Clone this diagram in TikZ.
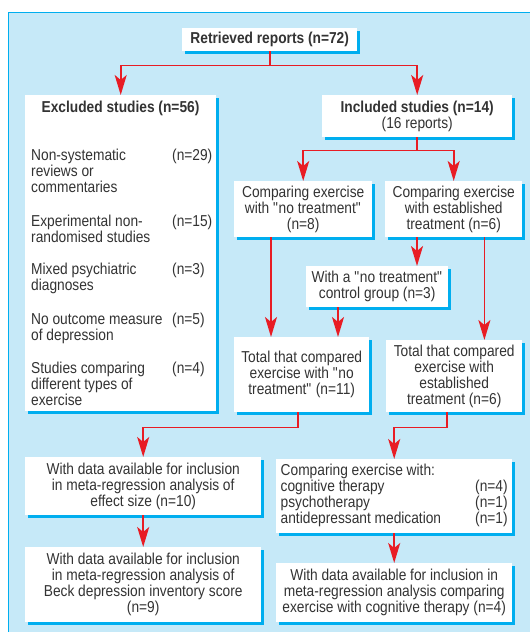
\documentclass[tikz,border=0pt]{standalone}
\usepackage{fontspec}
\setmainfont[FakeStretch=0.87]{Liberation Sans}
\usetikzlibrary{arrows.meta}
\usetikzlibrary{shadows}
\definecolor{panel}{RGB}{198,233,248}
\definecolor{rim}{RGB}{0,174,239}
\definecolor{flow}{RGB}{232,28,36}
\definecolor{ink}{RGB}{51,51,51}
\def\myfont{\fontsize{15.8pt}{16pt}\selectfont}
\def\q{\textquotedbl{}}
\tikzset{
>={Stealth[length=20pt,width=12pt,inset=5pt]}, % barbed red heads
my box/.style={fill=white,inner sep=0pt,anchor=north west,align=center,
  drop shadow={shadow xshift=3pt,shadow yshift=-3pt,fill=rim,opacity=1}},
my item/.style={inner sep=0pt,align=left,anchor=base west},
link/.style={->,draw=flow,line width=1.8pt},
}
\begin{document}
\begin{tikzpicture}[x=1pt,y=-1pt,font=\myfont,text=ink]
\useasboundingbox (0,0) rectangle (530,632);
\draw[fill=panel,draw=rim,line width=1pt] (8,12) rectangle (540,640);
% top level
\node[my box,minimum width=175pt,minimum height=23pt] (ret) at (182,28) {\bfseries Retrieved reports (n=72)};
\node[my box,minimum width=191pt,minimum height=316pt] (exc) at (25,95) {};
\node[my box,minimum width=190pt,minimum height=42pt] (inc) at (322,95) {\bfseries Included studies (n=14)\\(16 reports)};
% excluded list (base = last line)
\node[inner sep=0pt,anchor=base] (exct) at (120.5,112) {\bfseries Excluded studies (n=56)};
\node[my item] (x1) at (31,192) {Non-systematic\\reviews or\\commentaries};
\node[my item] (n1) at (172,160) {(n=29)};
\node[my item] (x2) at (31,242) {Experimental non-\\randomised studies};
\node[my item] (n2) at (172,226) {(n=15)};
\node[my item] (x3) at (31,290) {Mixed psychiatric\\diagnoses};
\node[my item] (n3) at (172,274) {(n=3)};
\node[my item] (x4) at (31,340) {No outcome measure\\of depression};
\node[my item] (n4) at (172,324) {(n=5)};
\node[my item] (x5) at (31,405) {Studies comparing\\different types of\\exercise};
\node[my item] (n5) at (172,373) {(n=4)};
% included branch
\node[my box,minimum width=138pt,minimum height=56pt] (nt) at (234,181) {Comparing exercise\\with \q no treatment\q\\(n=8)};
\node[my box,minimum width=137pt,minimum height=56pt] (et) at (385,181) {Comparing exercise\\with established\\treatment (n=6)};
\node[my box,minimum width=142pt,minimum height=41pt] (ctl) at (306,266) {With a \q no treatment\q\\control group (n=3)};
\node[my box,minimum width=135pt,minimum height=75pt] (tnt) at (234,337) {Total that compared\\exercise with \q no\\treatment\q{} (n=11)};
\node[my box,minimum width=136pt,minimum height=72pt] (tet) at (386,340) {Total that compared\\exercise with\\established\\treatment (n=6)};
% analyses
\node[my box,minimum width=236pt,minimum height=58pt] (es) at (25,457) {With data available for inclusion\\in meta-regression analysis of\\effect size (n=10)};
\node[my box,minimum width=236pt,minimum height=75pt] (bdi) at (25,547) {With data available for inclusion\\in meta-regression analysis of\\Beck depression inventory score\\(n=9)};
\node[my box,minimum width=236pt,minimum height=74pt] (cmp) at (276,459) {\begin{tabular*}{227pt}{@{}l@{\extracolsep{\fill}}r@{}}
Comparing exercise with: & \\
cognitive therapy & (n=4)\\
psychotherapy & (n=1)\\
antidepressant medication & (n=1)
\end{tabular*}};
\node[my box,minimum width=236pt,minimum height=59pt] (ct) at (276,563) {With data available for inclusion in\\meta-regression analysis comparing\\exercise with cognitive therapy (n=4)};
% connectors
\draw[link] (ret.south) -- ++(0,14) coordinate (j1) -| (exc.north);
\draw[link] (j1) -| (inc.north);
\draw[link] (inc.south) -- ++(0,13) coordinate (j2) -| (nt.north);
\draw[link] (j2) -| (et.north);
\draw[link] ([xshift=37pt]nt.south west) -- ([xshift=37pt]nt.south west |- tnt.north);
\draw[link] ([xshift=32pt]et.south west) -- ([xshift=32pt]et.south west |- ctl.north);
\draw[link] ([xshift=32pt]ctl.south west) -- ([xshift=32pt]ctl.south west |- tnt.north);
\draw[link] ([xshift=-38pt]et.south east) -- ([xshift=-38pt]et.south east |- tet.north);
\draw[link] ([xshift=64pt]tnt.south west) -- ++(0,15) -| (es.north);
\draw[link] ([xshift=61pt]tet.south west) -- ++(0,15) -| (cmp.north);
\draw[link] (es.south) -- (bdi.north);
\draw[link] (cmp.south) -- (ct.north);
\end{tikzpicture}
\end{document}
